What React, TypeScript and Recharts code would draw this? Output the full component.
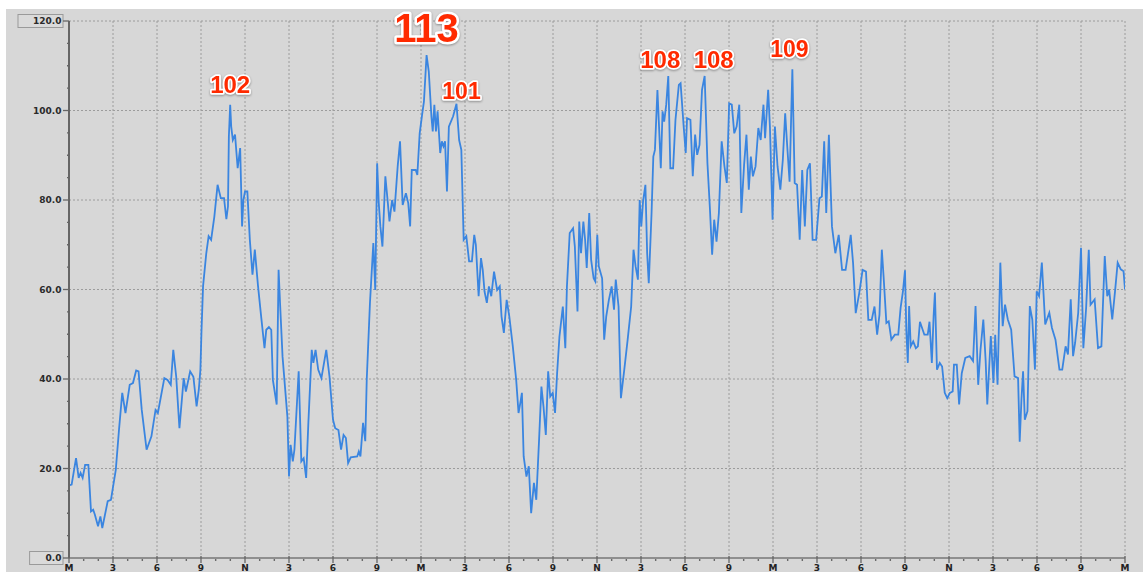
import React from 'react';
import { LineChart, Line, XAxis, YAxis, CartesianGrid, ReferenceDot } from 'recharts';

// time in hours since the first midnight
const hours = [
  0, 0.18, 0.48, 0.66, 0.79, 0.93, 1.1, 1.32, 1.5, 1.65, 1.76, 1.98, 2.14, 2.27, 2.64, 2.86, 3.19, 3.41, 3.63, 3.85,
  4.14, 4.36, 4.58, 4.74, 4.96, 5.29, 5.62, 5.9, 6.06, 6.5, 6.72, 6.94, 7.11, 7.31, 7.53, 7.82, 7.97, 8.26, 8.48, 8.7,
  8.85, 8.96, 9.03, 9.14, 9.36, 9.52, 9.69, 9.91, 10.13, 10.35, 10.57, 10.73, 10.84, 10.9, 10.99, 11.06, 11.17, 11.32, 11.5, 11.67,
  11.8, 11.89, 12, 12.16, 12.33, 12.51, 12.67, 12.89, 13.1, 13.33, 13.45, 13.63, 13.79, 13.9, 14.16, 14.29, 14.4, 14.56, 14.89, 15,
  15.11, 15.26, 15.37, 15.66, 15.84, 16, 16.17, 16.32, 16.55, 16.66, 16.81, 16.99, 17.21, 17.54, 17.76, 18, 18.15, 18.37, 18.55, 18.72,
  18.88, 19.03, 19.21, 19.65, 19.76, 19.87, 20.05, 20.2, 20.3, 20.52, 20.75, 20.88, 21.01, 21.12, 21.23, 21.37, 21.57, 21.74, 21.85, 22.03,
  22.19, 22.41, 22.57, 22.75, 22.97, 23.13, 23.26, 23.37, 23.64, 23.75, 23.91, 24.09, 24.2, 24.38, 24.53, 24.71, 24.8, 24.91, 25.02, 25.13,
  25.31, 25.42, 25.53, 25.64, 25.77, 25.9, 26.19, 26.42, 26.6, 26.75, 26.91, 27.09, 27.28, 27.47, 27.63, 27.74, 27.93, 28.09, 28.21, 28.33,
  28.49, 28.63, 28.79, 28.98, 29.19, 29.37, 29.49, 29.65, 29.84, 30.02, 30.26, 30.49, 30.65, 30.77, 30.88, 31, 31.19, 31.35, 31.51, 31.7,
  31.86, 32.05, 32.21, 32.35, 32.51, 32.67, 32.81, 32.98, 33.14, 33.28, 33.44, 33.67, 33.84, 33.95, 34.14, 34.37, 34.49, 34.6, 34.67, 34.79,
  34.91, 35.07, 35.19, 35.3, 35.47, 35.6, 35.77, 35.88, 36.02, 36.12, 36.35, 36.49, 36.63, 36.81, 37, 37.16, 37.28, 37.47, 37.63, 37.86,
  38.09, 38.33, 38.49, 38.63, 38.79, 38.91, 39.02, 39.14, 39.3, 39.42, 39.53, 39.72, 39.84, 39.95, 40.12, 40.23, 40.35, 40.47, 40.58, 40.72,
  40.86, 41, 41.19, 41.35, 41.58, 41.7, 41.91, 42.05, 42.14, 42.37, 42.53, 42.69, 42.83, 42.99, 43.16, 43.34, 43.53, 43.69, 43.85, 43.99,
  44.15, 44.31, 44.5, 44.69, 44.85, 45.01, 45.19, 45.36, 45.52, 45.7, 45.84, 46.03, 46.19, 46.35, 46.49, 46.63, 46.81, 47, 47.16, 47.35,
  47.46, 47.67, 47.79, 47.97, 48.13, 48.31, 48.5, 48.67, 48.83, 48.97, 49.13, 49.25, 49.32, 49.48, 49.64, 49.82, 49.99, 50.17, 50.34, 50.52,
  50.7, 50.94, 51.17, 51.33, 51.49, 51.63, 51.81, 52.02, 52.25, 52.48, 52.71, 52.95, 53.3, 53.46, 53.64, 53.88, 54.11, 54.34, 54.5, 54.73,
  54.92, 55.1, 55.26, 55.42, 55.54, 55.73, 55.89, 56.07, 56.31, 56.54, 56.7, 56.86, 57, 57.09, 57.19, 57.28, 57.39, 57.56, 57.74, 57.88,
  58.02, 58.32, 58.55, 58.67, 58.83, 58.95, 59.04, 59.18, 59.37, 59.53, 59.71, 59.88, 60.06, 60.25, 60.34, 60.53, 60.69, 60.87, 61.11, 61.41,
  61.64, 61.81, 61.99, 62.15, 62.34, 62.5, 62.61, 62.85, 63.03, 63.15, 63.31, 63.5, 63.66, 63.82, 64.01, 64.24, 64.47, 64.71, 64.82, 64.94,
  65.05, 65.17, 65.35, 65.51, 65.68, 65.86, 65.98, 66.14, 66.33, 66.56, 66.84, 67.02, 67.26, 67.53, 67.72, 67.95, 68.11, 68.3, 68.46, 68.6,
  68.81, 69, 69.16, 69.35, 69.53, 69.65, 69.93, 70.16, 70.39, 70.62, 70.79, 70.92, 71.13, 71.32, 71.5, 71.71, 71.9, 72,
];

const values = [
  16.2, 16.4, 22.3, 17.9, 19, 17.9, 20.8, 20.8, 10.4, 10.8, 9.7, 7.1, 9.3, 6.7, 12.7, 13, 19.7, 28.7, 36.9, 32.4,
  38.7, 39.1, 41.9, 41.7, 33.1, 24.2, 27.2, 33.1, 32.4, 40.2, 39.8, 38.7, 46.5, 40.5, 29, 40.2, 37.2, 41.7, 40.5, 33.9,
  37.6, 42.1, 50.3, 60.7, 68.1, 71.9, 71.1, 76.3, 83.4, 80.4, 80.4, 75.7, 78.6, 94.2, 101.3, 96.4, 93.4, 94.6, 87.1, 91.6,
  74.1, 80, 81.9, 81.9, 71.1, 63.3, 68.9, 60.7, 54, 46.9, 51, 51.6, 51, 39.8, 34.3, 64.4, 56.2, 45, 31.6, 18.2,
  25.3, 21.6, 24.2, 41.7, 21.6, 22.3, 17.9, 30.2, 46.5, 43.6, 46.5, 42.1, 40.2, 46.5, 40.6, 30.9, 29, 28.6, 24.2, 27.5,
  26.8, 21.2, 22.5, 22.7, 23.8, 22.7, 30.2, 26.1, 39.8, 57, 70.4, 59.9, 88.2, 79.3, 74.1, 69.6, 85.3, 79.3, 75.2, 80,
  77.4, 87.5, 93.1, 78.9, 81.5, 79.3, 74.1, 86.7, 86.7, 85.6, 94.9, 99.4, 102, 112.4, 108.7, 98.7, 95.3, 101.3, 95.3, 99.8,
  90.5, 93.1, 92, 93.1, 81.9, 96.4, 98.7, 101.5, 93.4, 91.2, 71.1, 71.9, 66.3, 66.3, 72.2, 70, 58.5, 67, 64.4, 59.6,
  57, 60.7, 58.5, 64, 59.9, 60.7, 54, 50.3, 57.7, 54, 47.3, 39.8, 32.4, 34.6, 36.9, 22.7, 18.2, 20.5, 10, 16.8,
  13, 26.4, 38.3, 33.9, 27.5, 41.7, 36.1, 36.9, 32.4, 41.3, 49.5, 56.2, 46.9, 60.7, 72.6, 73.7, 69.6, 60.7, 55.1, 75.2,
  68.1, 75.2, 71.1, 64.8, 77.1, 66.6, 62.5, 61.8, 72.2, 65.2, 62.5, 48.8, 54, 57.7, 60.7, 55.5, 62.2, 56.2, 35.7, 42.1,
  48.8, 56.2, 68.9, 65.2, 62.2, 80, 74.1, 79.7, 83.4, 68.1, 61.4, 77.1, 89.7, 91.2, 104.6, 96.4, 87.1, 99.8, 97.5, 101.3,
  107.7, 87.1, 87.1, 97.9, 105.7, 106.1, 96.4, 90.5, 98.3, 97.9, 85.3, 94.6, 90.1, 92.3, 104.6, 107.7, 88.2, 78.6, 67.8, 75.6,
  70.7, 77.1, 93.1, 87.5, 83.8, 101.6, 101.3, 94.9, 96.4, 101.3, 77.1, 87.9, 94.6, 82.3, 89.7, 85.3, 87.5, 96.1, 93.4, 101.3,
  93.8, 104.6, 96.4, 75.6, 96.4, 87.5, 82.3, 89, 99.4, 92, 84.1, 100.1, 109.2, 83.8, 83.4, 71.1, 86.7, 74.1, 86.7, 88.2,
  71.1, 71.1, 80.4, 80.8, 93.1, 77.1, 94.6, 74.1, 68.1, 72.2, 64.4, 64.4, 72.2, 65.9, 54.7, 59.2, 64.4, 64, 53.2, 53.2,
  56.2, 49.9, 54.4, 68.9, 62.9, 52.5, 52.9, 48.8, 49.9, 49.9, 55.9, 59.6, 64.3, 51, 43.6, 56.3, 47.3, 48.4, 46.9, 47.3,
  52.8, 49.9, 49.9, 52.8, 43.6, 54, 59.3, 42.1, 43.6, 42.8, 36.9, 35.7, 36.9, 37.2, 43.2, 43.2, 34.3, 41.3, 44.7, 45.1,
  44, 56.3, 38.7, 46.6, 53.3, 44, 34.3, 49.6, 39.1, 49.9, 38.7, 66, 51.8, 56.6, 53.3, 51, 40.6, 40.2, 26, 35.4,
  41.7, 30.9, 32.8, 56.3, 53.3, 42.1, 59.6, 58.5, 66, 52.2, 54.8, 51.4, 48.8, 42.1, 42.1, 47.3, 45.5, 57.8, 45.1, 48.1,
  54.8, 69.3, 46.9, 55.9, 68.9, 56.6, 57.8, 46.9, 47.3, 67.5, 58.5, 60, 53.3, 59.6, 66, 64.5, 64.1, 60,
];

const xTickLabels = ['M', '3', '6', '9', 'N', '3', '6', '9', 'M', '3', '6', '9', 'N', '3', '6', '9', 'M', '3', '6', '9', 'N', '3', '6', '9', 'M'];
const xMinorTicks = Array.from({ length: 73 }, (_, i) => i);
const xMajorTicks = xMinorTicks.filter((h) => h % 3 === 0 && h > 0);
const yMinorTicks = Array.from({ length: 25 }, (_, i) => i * 5);
const yMajorTicks = [20, 40, 60, 80, 100, 120];
const boxedYLabels = [0, 120];

const peakHours = [10.99, 24.38, 26.42, 40.86, 43.34, 49.32];
const peakValues = [101.3, 112.4, 101.5, 107.7, 107.7, 109.2];
const peakLabels = ['102', '113', '101', '108', '108', '109'];
// label placement (px) relative to the peak point, and font sizes
const peakOffsets = [
  { dx: 0, dy: -12, size: 24 },
  { dx: 0, dy: -13, size: 40 },
  { dx: 5, dy: -5, size: 23 },
  { dx: -8, dy: -8, size: 24 },
  { dx: 9, dy: -8, size: 24 },
  { dx: -3, dy: -12, size: 23 },
];

const data = hours.map((h, i) => ({ h, v: values[i] }));

const AXIS_FONT = 'DejaVu Sans, Verdana, sans-serif';

const XTick = (props: any) => {
  const { x, y, payload } = props;
  const v = payload.value as number;
  if (v % 3 !== 0) {
    return <line x1={x} x2={x} y1={y + 1} y2={y + 3} stroke="#6a6a6a" strokeWidth={1.4} />;
  }
  return (
    <g>
      <line x1={x} x2={x} y1={y - 2} y2={y + 5} stroke="#666" strokeWidth={1.3} />
      <text x={x} y={y + 13} textAnchor="middle" fontFamily={AXIS_FONT} fontWeight="bold" fontSize={9} fill="#222">
        {xTickLabels[v / 3]}
      </text>
    </g>
  );
};

const YTick = (props: any) => {
  const { x, y, payload } = props;
  const v = payload.value as number;
  if (v % 20 !== 0) {
    return <line x1={x - 2} x2={x} y1={y} y2={y} stroke="#666" strokeWidth={1.3} />;
  }
  const label = v.toFixed(1);
  const boxed = boxedYLabels.includes(v);
  const boxW = 16 + label.length * 5.8;
  return (
    <g>
      {boxed && (
        <rect x={x - 6 - boxW} y={y - 6.5} width={boxW} height={13} fill="#dadada" stroke="#9a9a9a" strokeWidth={1} />
      )}
      <line x1={x - 6} x2={x} y1={y} y2={y} stroke="#666" strokeWidth={1.3} />
      <text x={x - 7.5} y={y + 3.3} textAnchor="end" fontFamily={AXIS_FONT} fontWeight="bold" fontSize={9} fill="#2a2a2a">
        {label}
      </text>
    </g>
  );
};

const makePeakLabel = (i: number) => (props: any) => {
  const vb = props.viewBox || {};
  const cx = (vb.x ?? 0) + (vb.width ?? 0) / 2;
  const cy = (vb.y ?? 0) + (vb.height ?? 0) / 2;
  const o = peakOffsets[i];
  return (
    <text
      x={cx + o.dx}
      y={cy + o.dy}
      textAnchor="middle"
      fontFamily="Liberation Sans, Arial, Helvetica, sans-serif"
      fontWeight="bold"
      fontSize={o.size}
      fill="#ff2a00"
      stroke="#ffffff"
      strokeWidth={o.size > 30 ? 5 : 3.5}
      strokeLinejoin="round"
      paintOrder="stroke"
      style={{ filter: 'drop-shadow(0px 1px 1.2px rgba(0,0,0,0.35))' }}
    >
      {peakLabels[i]}
    </text>
  );
};

export default function App() {
  return (
    <div style={{ position: 'absolute', left: 0, top: 0, width: 1147, height: 572, background: '#ffffff', overflow: 'hidden' }}>
      <div style={{ position: 'absolute', left: 6, top: 9, width: 1137, height: 563, background: '#d7d7d7' }} />
      <div style={{ position: 'absolute', left: 0, top: 0 }}>
        <LineChart width={1147} height={572} data={data} margin={{ top: 21, right: 22, bottom: 0, left: 0 }}>
          <CartesianGrid
            horizontal
            vertical
            horizontalValues={yMajorTicks}
            verticalValues={xMajorTicks}
            stroke="#9c9c9c"
            strokeDasharray="2 2"
            strokeWidth={1}
          />
          <XAxis
            dataKey="h"
            type="number"
            domain={[0, 72]}
            ticks={xMinorTicks}
            interval={0}
            height={14}
            tickSize={0}
            tickMargin={0}
            tickLine={false}
            axisLine={{ stroke: '#777', strokeWidth: 1.6 }}
            tick={<XTick />}
            allowDataOverflow
          />
          <YAxis
            type="number"
            domain={[0, 120]}
            ticks={yMinorTicks}
            interval={0}
            width={69}
            tickSize={0}
            tickMargin={0}
            tickLine={false}
            axisLine={{ stroke: '#666', strokeWidth: 2 }}
            tick={<YTick />}
            allowDataOverflow
          />
          <Line
            type="linear"
            dataKey="v"
            stroke="#3a85e0"
            strokeWidth={1.8}
            dot={false}
            activeDot={false}
            isAnimationActive={false}
          />
          {peakHours.map((h, i) => (
            <ReferenceDot
              key={i}
              x={h}
              y={peakValues[i]}
              r={0}
              fill="none"
              stroke="none"
              ifOverflow="visible"
              label={makePeakLabel(i)}
            />
          ))}
        </LineChart>
      </div>
    </div>
  );
}
